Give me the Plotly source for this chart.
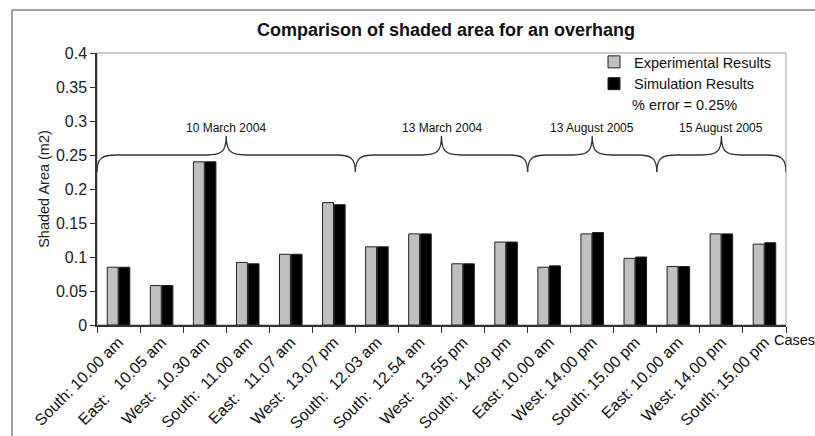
import plotly.graph_objects as go

cases = ["South: 10.00 am", "East:\u00a0\u00a0 10.05 am", "West:\u00a0 10.30 am",
         "South:\u00a0 11.00 am", "East:\u00a0\u00a0 11.07 am", "West:\u00a0 13.07 pm",
         "South:\u00a0 12.03 am", "South:\u00a0 12.54 am", "West:\u00a0 13.55 pm",
         "South:\u00a0 14.09 pm", "East: 10.00 am", "West: 14.00 pm",
         "South: 15.00 pm", "East: 10.00 am", "West: 14.00 pm", "South: 15.00 pm"]
experimental = [0.085, 0.058, 0.240, 0.092, 0.104, 0.180, 0.115, 0.134,
                0.090, 0.122, 0.085, 0.134, 0.098, 0.086, 0.134, 0.119]
simulation = [0.085, 0.058, 0.240, 0.090, 0.104, 0.177, 0.115, 0.134,
              0.090, 0.122, 0.087, 0.136, 0.100, 0.086, 0.134, 0.121]
group_labels = ["10 March 2004", "13 March 2004", "13 August 2005", "15 August 2005"]
group_sizes = [6, 4, 3, 3]
error_text = "% error = 0.25%"

FONT = "Arial, Liberation Sans, sans-serif"
xs = list(range(len(cases)))

fig = go.Figure()
fig.add_trace(go.Bar(x=xs, y=experimental, name="Experimental Results",
                     marker=dict(color="#c0c0c0", line=dict(color="#222", width=1))))
fig.add_trace(go.Bar(x=xs, y=simulation, name="Simulation Results",
                     marker=dict(color="#000000", line=dict(color="#222", width=1))))

shapes = []
annotations = []
# braces over date groups
start = -0.5
y_tip, y_line, y_peak = 0.225, 0.25, 0.278
r = 0.45
for lab, n in zip(group_labels, group_sizes):
    x0, x1 = start, start + n
    xm = (x0 + x1) / 2
    path = (f"M {x0},{y_tip} C {x0},{y_line-0.004} {x0+0.12},{y_line} {x0+r},{y_line} "
            f"L {xm-r},{y_line} C {xm-0.12},{y_line} {xm},{y_line+0.004} {xm},{y_peak} "
            f"C {xm},{y_line+0.004} {xm+0.12},{y_line} {xm+r},{y_line} "
            f"L {x1-r},{y_line} C {x1-0.12},{y_line} {x1},{y_line-0.004} {x1},{y_tip}")
    shapes.append(dict(type="path", path=path, xref="x", yref="y",
                       line=dict(color="#333", width=1.3)))
    annotations.append(dict(x=xm, y=0.29, xref="x", yref="y", text=lab, showarrow=False,
                            font=dict(family=FONT, size=12, color="#111"),
                            yanchor="middle"))
    start = x1

# plot area border (top/right)
shapes.append(dict(type="rect", xref="paper", yref="paper", x0=0, x1=1, y0=0, y1=1,
                   line=dict(color="#999", width=1), layer="below"))
# outer chart frame
shapes.append(dict(type="line", xref="paper", yref="paper", x0=-85/689, x1=1.2,
                   y0=315/272, y1=315/272, line=dict(color="#444", width=1)))
shapes.append(dict(type="line", xref="paper", yref="paper", x0=-85/689, x1=-85/689,
                   y0=315/272, y1=-0.5, line=dict(color="#444", width=1)))

annotations.append(dict(x=(632 - 97) / 689, y=(325 - 105) / 272, xref="paper", yref="paper",
                        text=error_text, showarrow=False, xanchor="left", yanchor="middle",
                        xshift=-2, font=dict(family=FONT, size=14.5, color="#111")))
annotations.append(dict(x=(774 - 97) / 689, y=-15/272, xref="paper", yref="paper",
                        text="Cases", showarrow=False, xanchor="left", yanchor="middle",
                        xshift=-2, font=dict(family=FONT, size=14.5, color="#111")))

fig.update_layout(
    width=815, height=436,
    margin=dict(l=97, r=29, t=53, b=111, autoexpand=False),
    paper_bgcolor="white", plot_bgcolor="white",
    title=dict(text="<b>Comparison of shaded area for an overhang</b>",
               x=(254 + 638) / 2 / 815, xanchor="center", y=1 - 30 / 436, yanchor="middle",
               font=dict(family=FONT, size=18, color="#111")),
    barmode="group", bargap=0.46, bargroupgap=0.06,
    showlegend=True,
    legend=dict(x=(594 - 97) / 689, y=1.026, xanchor="left", yanchor="top",
                bgcolor="rgba(0,0,0,0)", font=dict(family=FONT, size=14.5, color="#111"),
                tracegroupgap=0, itemwidth=30),
    shapes=shapes, annotations=annotations,
    font=dict(family=FONT, color="#111"),
)
fig.update_xaxes(range=[-0.5, len(cases) - 0.5], tickmode="array", tickvals=xs, ticktext=cases,
                 tickangle=-45, ticks="", showgrid=False, zeroline=False, automargin=False,
                 showline=True, linecolor="#333", linewidth=1.5,
                 tickfont=dict(family=FONT, size=16, color="#111"),
                 minor=dict(tick0=-0.5, dtick=1, ticks="outside", ticklen=6, tickcolor="#333",
                            showgrid=False))
fig.update_yaxes(range=[0, 0.4], dtick=0.05, tickmode="linear", tick0=0, automargin=False,
                 ticks="outside", ticklen=5, tickcolor="#333", showgrid=False, zeroline=False,
                 showline=True, linecolor="#333", linewidth=1.5,
                 tickfont=dict(family=FONT, size=16, color="#222"),
                 title=dict(text="Shaded Area (m2)", standoff=3,
                            font=dict(family=FONT, size=14.5, color="#222")))

fig.write_html("out.html", config={"displayModeBar": False},
               post_script="document.body.style.margin='0';")
